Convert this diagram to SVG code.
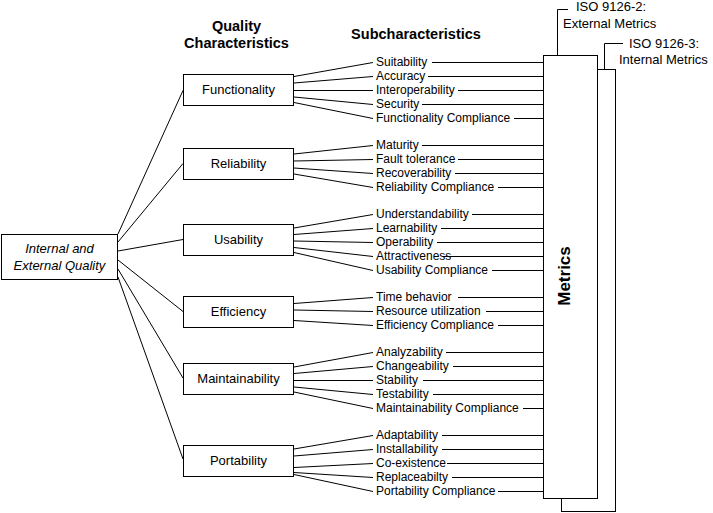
<svg xmlns="http://www.w3.org/2000/svg" width="713" height="513" viewBox="0 0 713 513">
<style>
text{font-family:"Liberation Sans",Arial,sans-serif;fill:#000}
.sub{font-size:12px}
.qc{font-size:13px;text-anchor:middle}
.hd{font-size:14.5px;font-weight:bold;text-anchor:middle}
.iso{font-size:13px}
.box{fill:#fff;stroke:#000;stroke-width:1}
#connectors line,#connectors polyline{stroke:#000;stroke-width:1;fill:none}
</style>
<rect width="713" height="513" fill="#fff"/>
<text class="hd" x="236.5" y="31">Quality</text>
<text class="hd" x="236.5" y="48">Characteristics</text>
<text class="hd" x="416" y="39">Subcharacteristics</text>
<g id="connectors">
<line x1="118" y1="234" x2="183" y2="90.5"/>
<line x1="118" y1="242" x2="183" y2="163.5"/>
<line x1="118" y1="251" x2="183" y2="239.5"/>
<line x1="118" y1="260" x2="183" y2="311.5"/>
<line x1="118" y1="269" x2="183" y2="378"/>
<line x1="118" y1="277" x2="183" y2="459"/>
<line x1="294" y1="76.5" x2="373" y2="62.5"/>
<line x1="294" y1="83" x2="373" y2="76.5"/>
<line x1="294" y1="90.5" x2="373" y2="90.5"/>
<line x1="294" y1="97" x2="373" y2="104.5"/>
<line x1="294" y1="102.5" x2="373" y2="118.5"/>
<line x1="294" y1="154" x2="373" y2="145.5"/>
<line x1="294" y1="161" x2="373" y2="159.5"/>
<line x1="294" y1="168" x2="373" y2="173.5"/>
<line x1="294" y1="174" x2="373" y2="187.5"/>
<line x1="294" y1="228" x2="373" y2="214.5"/>
<line x1="294" y1="234.5" x2="373" y2="228.5"/>
<line x1="294" y1="241" x2="373" y2="242.5"/>
<line x1="294" y1="247.5" x2="373" y2="256.5"/>
<line x1="294" y1="252.5" x2="373" y2="270.5"/>
<line x1="294" y1="303.5" x2="373" y2="297.5"/>
<line x1="294" y1="310" x2="373" y2="311.5"/>
<line x1="294" y1="320.5" x2="373" y2="325.5"/>
<line x1="294" y1="367" x2="373" y2="352.5"/>
<line x1="294" y1="373.5" x2="373" y2="366.5"/>
<line x1="294" y1="380.5" x2="373" y2="380.5"/>
<line x1="294" y1="387" x2="373" y2="394.5"/>
<line x1="294" y1="392" x2="373" y2="408.5"/>
<line x1="294" y1="449" x2="373" y2="435.5"/>
<line x1="294" y1="456" x2="373" y2="449.5"/>
<line x1="294" y1="467.5" x2="373" y2="463.5"/>
<line x1="294" y1="472.5" x2="373" y2="477.5"/>
<line x1="294" y1="474.5" x2="373" y2="491.5"/>
<line x1="432" y1="62.5" x2="543" y2="62.5"/>
<line x1="428" y1="76.5" x2="543" y2="76.5"/>
<line x1="458" y1="90.5" x2="543" y2="90.5"/>
<line x1="422" y1="104.5" x2="543" y2="104.5"/>
<line x1="514" y1="118.5" x2="543" y2="118.5"/>
<line x1="422" y1="145.5" x2="543" y2="145.5"/>
<line x1="458" y1="159.5" x2="543" y2="159.5"/>
<line x1="455" y1="173.5" x2="543" y2="173.5"/>
<line x1="498" y1="187.5" x2="543" y2="187.5"/>
<line x1="472" y1="214.5" x2="543" y2="214.5"/>
<line x1="441" y1="228.5" x2="543" y2="228.5"/>
<line x1="437" y1="242.5" x2="543" y2="242.5"/>
<line x1="443" y1="256.5" x2="543" y2="256.5"/>
<line x1="492" y1="270.5" x2="543" y2="270.5"/>
<line x1="458" y1="297.5" x2="543" y2="297.5"/>
<line x1="486" y1="311.5" x2="543" y2="311.5"/>
<line x1="498" y1="325.5" x2="543" y2="325.5"/>
<line x1="446" y1="352.5" x2="543" y2="352.5"/>
<line x1="453" y1="366.5" x2="543" y2="366.5"/>
<line x1="423" y1="380.5" x2="543" y2="380.5"/>
<line x1="433" y1="394.5" x2="543" y2="394.5"/>
<line x1="523" y1="408.5" x2="543" y2="408.5"/>
<line x1="442" y1="435.5" x2="543" y2="435.5"/>
<line x1="442" y1="449.5" x2="543" y2="449.5"/>
<line x1="447" y1="463.5" x2="543" y2="463.5"/>
<line x1="452" y1="477.5" x2="543" y2="477.5"/>
<line x1="498" y1="491.5" x2="543" y2="491.5"/>
<polyline points="557.5,55 557.5,9.5 568,9.5"/>
<polyline points="604.5,69 604.5,43.5 623,43.5"/>
</g>
<g id="iso-internal">
<rect class="box" x="561.5" y="69.5" width="54" height="442"/>
<text class="iso" x="629" y="48">ISO 9126-3:</text>
<text class="iso" x="619" y="64">Internal Metrics</text>
</g>
<g id="metrics">
<rect class="box" x="543.5" y="55.5" width="54" height="443"/>
<text x="569.5" y="276" transform="rotate(-90 569.5 276)" style="font-size:17px;font-weight:bold;text-anchor:middle">Metrics</text>
</g>
<g id="iso-external">
<text class="iso" x="576" y="11">ISO 9126-2:</text>
<text class="iso" x="563" y="28">External Metrics</text>
</g>
<g id="quality">
<rect class="box" x="1.5" y="234.5" width="116" height="45"/>
<text class="qc" x="59.5" y="253" style="font-style:italic">Internal and</text>
<text class="qc" x="59.5" y="269.5" style="font-style:italic">External Quality</text>
</g>
<g id="functionality">
<rect class="box" x="183.5" y="74.5" width="110" height="31"/>
<text class="qc" x="238.5" y="93.5">Functionality</text>
</g>
<g id="reliability">
<rect class="box" x="183.5" y="148.5" width="110" height="31"/>
<text class="qc" x="238.5" y="167.5">Reliability</text>
</g>
<g id="usability">
<rect class="box" x="183.5" y="224.5" width="110" height="31"/>
<text class="qc" x="238.5" y="243.5">Usability</text>
</g>
<g id="efficiency">
<rect class="box" x="183.5" y="296.5" width="110" height="31"/>
<text class="qc" x="238.5" y="315.5">Efficiency</text>
</g>
<g id="maintainability">
<rect class="box" x="183.5" y="363.5" width="110" height="31"/>
<text class="qc" x="238.5" y="382.5">Maintainability</text>
</g>
<g id="portability">
<rect class="box" x="183.5" y="445.5" width="110" height="31"/>
<text class="qc" x="238.5" y="464.5">Portability</text>
</g>
<g id="subcharacteristics" class="sub">
<text class="sub" x="376" y="66">Suitability</text>
<text class="sub" x="376" y="80">Accuracy</text>
<text class="sub" x="376" y="94">Interoperability</text>
<text class="sub" x="376" y="108">Security</text>
<text class="sub" x="376" y="122">Functionality Compliance</text>
<text class="sub" x="376" y="149">Maturity</text>
<text class="sub" x="376" y="163">Fault tolerance</text>
<text class="sub" x="376" y="177">Recoverability</text>
<text class="sub" x="376" y="191">Reliability Compliance</text>
<text class="sub" x="376" y="218">Understandability</text>
<text class="sub" x="376" y="232">Learnability</text>
<text class="sub" x="376" y="246">Operability</text>
<text class="sub" x="376" y="260">Attractiveness</text>
<text class="sub" x="376" y="274">Usability Compliance</text>
<text class="sub" x="376" y="301">Time behavior</text>
<text class="sub" x="376" y="315">Resource utilization</text>
<text class="sub" x="376" y="329">Efficiency Compliance</text>
<text class="sub" x="376" y="356">Analyzability</text>
<text class="sub" x="376" y="370">Changeability</text>
<text class="sub" x="376" y="384">Stability</text>
<text class="sub" x="376" y="398">Testability</text>
<text class="sub" x="376" y="412">Maintainability Compliance</text>
<text class="sub" x="376" y="439">Adaptability</text>
<text class="sub" x="376" y="453">Installability</text>
<text class="sub" x="376" y="467">Co-existence</text>
<text class="sub" x="376" y="481">Replaceabilty</text>
<text class="sub" x="376" y="495">Portability Compliance</text>
</g>
</svg>
